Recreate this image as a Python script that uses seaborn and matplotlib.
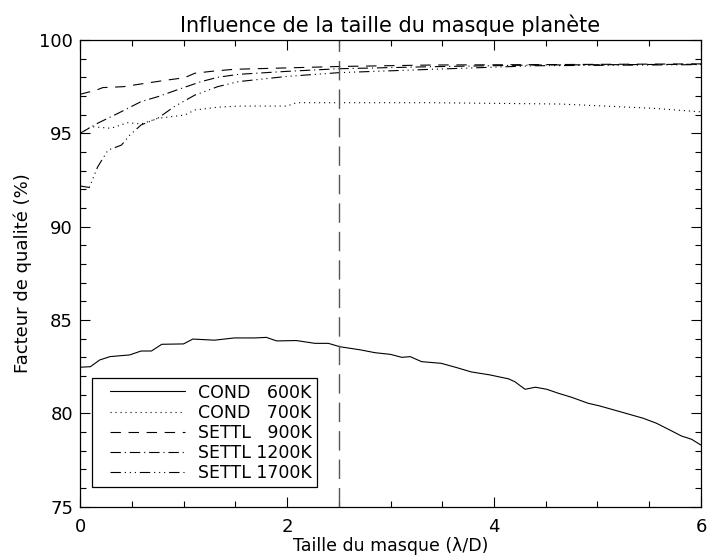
import matplotlib
matplotlib.use("Agg")
import matplotlib.pyplot as plt
from matplotlib.ticker import MultipleLocator
from matplotlib.legend_handler import HandlerLine2D
import seaborn as sns

# Quality factor (%) versus planet-mask size (lambda/D) for five atmosphere models
cond600_x = [0.0, 0.1, 0.19, 0.29, 0.48, 0.59, 0.69, 0.79, 1.0, 1.09, 1.3, 1.49, 1.69, 1.8,
             1.9, 2.09, 2.27, 2.4, 2.51, 2.71, 2.85, 3.0, 3.11, 3.19, 3.3, 3.49, 3.64, 3.78,
             3.96, 4.14, 4.2, 4.3, 4.4, 4.51, 4.62, 4.75, 4.91, 5.02, 5.25, 5.44, 5.57, 5.73,
             5.81, 5.91, 6.0]
cond600_y = [82.47, 82.5, 82.86, 83.04, 83.13, 83.34, 83.34, 83.7, 83.72, 83.98, 83.92, 84.04,
             84.04, 84.07, 83.88, 83.9, 83.75, 83.75, 83.57, 83.4, 83.25, 83.16, 83.0, 83.04,
             82.77, 82.68, 82.45, 82.22, 82.06, 81.85, 81.7, 81.29, 81.4, 81.29, 81.08, 80.86,
             80.54, 80.4, 80.04, 79.74, 79.47, 79.02, 78.79, 78.61, 78.3]

cond700_x = [0.0, 0.11, 0.3, 0.46, 0.59, 0.75, 1.01, 1.11, 1.33, 1.53, 2.0, 2.09, 3.4, 4.64,
             5.54, 6.0]
cond700_y = [95.0, 95.36, 95.27, 95.57, 95.5, 95.8, 95.98, 96.25, 96.4, 96.46, 96.46, 96.64,
             96.64, 96.57, 96.34, 96.15]

settl900_x = [0.0, 0.16, 0.22, 0.42, 0.63, 0.85, 1.01, 1.11, 1.3, 1.49, 2.5, 3.4, 4.4, 6.0]
settl900_y = [97.09, 97.32, 97.45, 97.5, 97.68, 97.86, 97.98, 98.22, 98.34, 98.43, 98.58,
              98.66, 98.68, 98.72]

settl1200_x = [0.0, 0.17, 0.37, 0.59, 0.75, 0.98, 1.17, 1.33, 1.53, 2.0, 2.5, 3.4, 4.4, 6.0]
settl1200_y = [95.0, 95.54, 96.08, 96.7, 96.96, 97.41, 97.77, 98.0, 98.16, 98.32, 98.46,
               98.57, 98.66, 98.7]

settl1700_x = [0.0, 0.09, 0.17, 0.27, 0.4, 0.48, 0.59, 0.75, 0.91, 1.11, 1.33, 1.53, 2.0,
               2.5, 3.4, 4.4, 6.0]
settl1700_y = [92.18, 92.1, 93.2, 94.1, 94.37, 94.9, 95.45, 95.8, 96.43, 97.05, 97.5, 97.77,
               98.05, 98.25, 98.43, 98.62, 98.68]

series_labels = ["COND   600K", "COND   700K", "SETTL   900K", "SETTL 1200K", "SETTL 1700K"]
mask_reference = 2.5

x_ticks = [0, 2, 4, 6]
y_ticks = [75, 80, 85, 90, 95, 100]

sns.set_theme(style="ticks")
plt.rcParams["font.family"] = ["DejaVu Sans"]
plt.rcParams["lines.scale_dashes"] = False

fig = plt.figure(figsize=(7.07, 5.57), dpi=100)
ax = fig.add_axes([0.1132, 0.0903, 0.8783, 0.8379])

styles = [
    "-",
    (0, (0.8, 2.8)),
    (0, (7.5, 5.5)),
    (0, (7.5, 2.8, 0.8, 2.8)),
    (0, (7.5, 2.8, 0.8, 2.8, 0.8, 2.8, 0.8, 2.8)),
]
xs = [cond600_x, cond700_x, settl900_x, settl1200_x, settl1700_x]
ys = [cond600_y, cond700_y, settl900_y, settl1200_y, settl1700_y]

for x, y, ls, lab in zip(xs, ys, styles, series_labels):
    sns.lineplot(x=x, y=y, ax=ax, color="black", linewidth=0.8, linestyle=ls,
                 label=lab, sort=False, estimator=None)

ax.axvline(mask_reference, color="#555555", linewidth=1.0, linestyle=(0, (14, 6.5)))

ax.set_xlim(0, 6)
ax.set_ylim(75, 100)
ax.set_xticks(x_ticks)
ax.set_yticks(y_ticks)
ax.xaxis.set_minor_locator(MultipleLocator(0.5))
ax.yaxis.set_minor_locator(MultipleLocator(1))
ax.tick_params(which="both", direction="in", top=True, right=True, color="black",
               width=0.8, labelsize=13, labelcolor="black")
ax.tick_params(axis="x", which="major", length=7, pad=8)
ax.tick_params(axis="y", which="major", length=7, pad=5)
ax.tick_params(which="minor", length=4)
for sp in ax.spines.values():
    sp.set_color("black")
    sp.set_linewidth(0.9)

ax.set_xlabel("Taille du masque (\u03bb/D)", fontsize=12.5, color="black", labelpad=1)
ax.set_ylabel("Facteur de qualit\u00e9 (%)", fontsize=13, color="black", labelpad=5)
ax.set_title("Influence de la taille du masque plan\u00e8te", fontsize=15, color="black", pad=6)

# legend: line samples indented from the frame, text column after a gap
handles, labels = ax.get_legend_handles_labels()
leg = ax.legend(handles, labels, loc="lower left", bbox_to_anchor=(0.019, 0.042),
                fontsize=12.5, frameon=True, fancybox=False, shadow=False, framealpha=1,
                edgecolor="black", handlelength=5.06, handletextpad=0.75,
                labelspacing=0.12, borderpad=0.3, borderaxespad=0,
                handler_map={h: HandlerLine2D(xpad=0.75) for h in handles})
leg.get_frame().set_linewidth(0.9)
for t in leg.get_texts():
    t.set_color("black")

fig.savefig("out.png", dpi=100)
